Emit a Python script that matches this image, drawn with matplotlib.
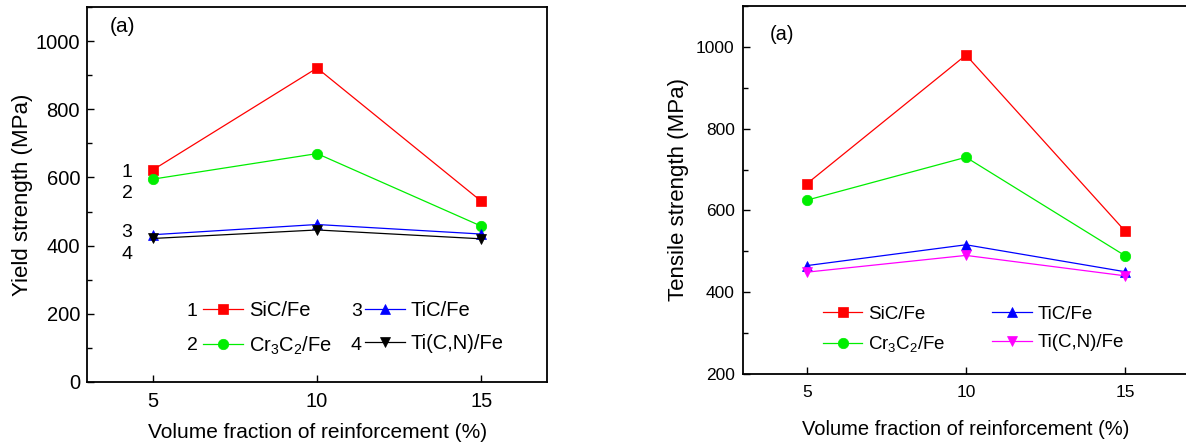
import matplotlib
matplotlib.use("Agg")
import matplotlib.pyplot as plt
from matplotlib.ticker import MultipleLocator

plt.rcParams["font.family"] = ["Liberation Sans", "DejaVu Sans"]
plt.rcParams["mathtext.default"] = "regular"

# data
vol_frac = [5, 10, 15]
series_names = ["SiC/Fe", "Cr$_3$C$_2$/Fe", "TiC/Fe", "Ti(C,N)/Fe"]
yield_sic = [622, 921, 530]
yield_cr3c2 = [595, 670, 457]
yield_tic = [432, 462, 434]
yield_ticn = [421, 446, 420]
tensile_sic = [665, 980, 549]
tensile_cr3c2 = [625, 730, 489]
tensile_tic = [465, 516, 450]
tensile_ticn = [449, 490, 440]

left_colors = ["#ff0000", "#00ee00", "#0000ff", "#000000"]
right_colors = ["#ff0000", "#00ee00", "#0000ff", "#ff00ff"]
markers = ["s", "o", "^", "v"]


def style_axis(ax, ylim, tick_size, pad):
    ax.set_xlim(3, 17)
    ax.set_ylim(*ylim)
    ax.set_xticks(vol_frac)
    ax.yaxis.set_major_locator(MultipleLocator(200))
    ax.yaxis.set_minor_locator(MultipleLocator(100))
    ax.tick_params(which="both", direction="in", width=1.0, labelsize=tick_size)
    ax.tick_params(which="major", length=5)
    ax.tick_params(which="minor", length=3.5)
    ax.tick_params(axis="x", pad=pad)
    ax.tick_params(axis="y", pad=pad - 2)
    for spine in ax.spines.values():
        spine.set_linewidth(1.3)


def draw_series(ax, data, colors):
    handles = []
    for vals, color, marker in zip(data, colors, markers):
        (line,) = ax.plot(vol_frac, vals, color=color, marker=marker, markersize=7.5,
                          linewidth=0.9, markeredgewidth=0.5, markeredgecolor=color)
        handles.append(line)
    return handles


fig = plt.figure(figsize=(11.86, 4.43), dpi=100)

# left panel: yield strength
ax1 = fig.add_axes([0.0734, 0.1377, 0.3879, 0.8465])
h1 = draw_series(ax1, [yield_sic, yield_cr3c2, yield_tic, yield_ticn], left_colors)
style_axis(ax1, (0, 1100), 14.5, 7)
ax1.set_xlabel("Volume fraction of reinforcement (%)", fontsize=15, labelpad=9)
ax1.set_ylabel("Yield strength (MPa)", fontsize=16, labelpad=2)
ax1.text(4.07, 1044, "(a)", fontsize=15, ha="center", va="center")
for num, (tx, ty) in zip(["1", "2", "3", "4"], [(4.22, 615), (4.22, 552), (4.22, 438), (4.22, 375)]):
    ax1.text(tx, ty, num, fontsize=14, ha="center", va="center")
ax1.legend(h1, series_names, ncol=2, frameon=False,
           loc="upper left", bbox_to_anchor=(0.252, 0.215), borderpad=0, borderaxespad=0,
           fontsize=14.5, handlelength=2.0, handletextpad=0.3,
           columnspacing=1.6, labelspacing=0.7)
for num, (tx, ty) in zip(["1", "2", "3", "4"], [(0.228, 0.188), (0.228, 0.096), (0.585, 0.188), (0.585, 0.096)]):
    ax1.text(tx, ty, num, fontsize=14, ha="center", va="center", transform=ax1.transAxes)

# right panel: tensile strength (cut at the right edge in the source image)
ax2 = fig.add_axes([0.6265, 0.1558, 0.376, 0.8307])
h2 = draw_series(ax2, [tensile_sic, tensile_cr3c2, tensile_tic, tensile_ticn], right_colors)
style_axis(ax2, (200, 1100), 12.5, 8)
ax2.set_xlabel("Volume fraction of reinforcement (%)", fontsize=14.5, labelpad=14)
ax2.set_ylabel("Tensile strength (MPa)", fontsize=16, labelpad=5)
ax2.text(4.22, 1031, "(a)", fontsize=14.5, ha="center", va="center")
ax2.legend(h2, series_names, ncol=2, frameon=False,
           loc="upper left", bbox_to_anchor=(0.179, 0.185), borderpad=0, borderaxespad=0,
           fontsize=13.5, handlelength=2.1, handletextpad=0.3,
           columnspacing=2.5, labelspacing=0.6)

fig.savefig("out.png", dpi=100)
